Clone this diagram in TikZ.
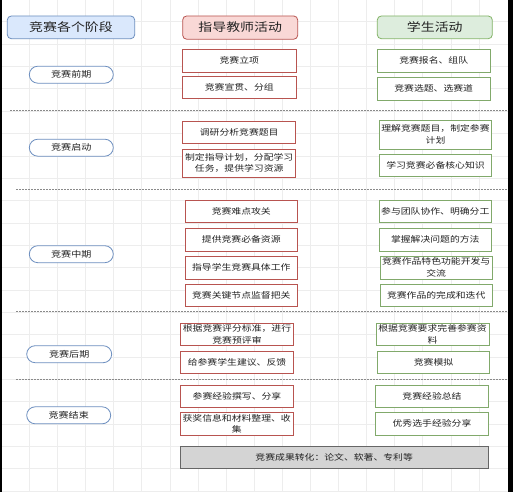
\documentclass[tikz,border=0pt]{standalone}
\usepackage{fontspec}
\newfontfamily\cjk[FakeStretch=1.2]{Noto Sans CJK SC}
\definecolor{gridc}{HTML}{EDEDED}
\definecolor{blueb}{HTML}{6C8EBF}
\definecolor{bluef}{HTML}{DAE8FC}
\definecolor{redb}{HTML}{B85450}
\definecolor{redf}{HTML}{F8CECC}
\definecolor{greenb}{HTML}{82B366}
\definecolor{greenf}{HTML}{D5E8D4}
\definecolor{txt}{HTML}{222222}
\definecolor{dashc}{HTML}{8A8A8A}
\tikzset{
  head/.style={draw, line width=0.8pt, rounded corners=4pt, inner sep=0pt, font=\cjk\fontsize{11.6}{13}\selectfont, text=txt},
  pill/.style={draw=blueb, fill=white, line width=0.8pt, rounded corners=8.5pt, minimum width=84, minimum height=17, inner sep=0pt, font=\cjk\fontsize{8.4}{10}\selectfont, text=txt},
  tbox/.style={draw=redb, fill=white, line width=0.7pt, minimum width=113, minimum height=22.7, inner sep=0pt, align=center, font=\cjk\fontsize{8.2}{11.4}\selectfont, text=txt},
  sbox/.style={draw=greenb!80!gray, fill=white, line width=0.7pt, minimum width=112.6, minimum height=22.7, inner sep=0pt, align=center, font=\cjk\fontsize{8.2}{11.4}\selectfont, text=txt},
  gbox/.style={draw=black!60, fill=black!17, line width=0.8pt, minimum width=308.3, minimum height=22.3, inner sep=0pt, font=\cjk\fontsize{8.2}{11}\selectfont, text=txt},
  sep/.style={draw=dashc, line width=0.6pt, dash pattern=on 1.5pt off 1.5pt}
}
\begin{document}
\begin{tikzpicture}[x=1pt,y=-1pt]
\useasboundingbox (0,0) rectangle (513,492);
\fill[white] (0,0) rectangle (513,492);
% grid
\foreach \i in {0,...,16} \draw[gridc, line width=0.6pt] ({29.3+28.1*\i},0) -- ({29.3+28.1*\i},492);
\foreach \j in {0,...,21} \draw[gridc, line width=0.6pt] (2,{21.7+22.35*\j}) -- (507.5,{21.7+22.35*\j});
% side bars
\fill[black] (0,0) rectangle (1.7,492);
\fill[black] (507.5,0) rectangle (513,492);
% separators
\coordinate (a1) at (10,110); \coordinate (b1) at (507,110);
\coordinate (a2) at (16,189.3); \coordinate (b2) at (507,189.3);
\coordinate (a3) at (16,311.7); \coordinate (b3) at (507,311.7);
\coordinate (a4) at (16,379); \coordinate (b4) at (507,379);
\draw[sep] (a1) -- (b1);
\draw[sep] (a2) -- (b2);
\draw[sep] (a3) -- (b3);
\draw[sep] (a4) -- (b4);
% headers
\node[head, draw=blueb, fill=bluef, minimum width=127.4, minimum height=22.7] (h1) at (71,27.35) {竞赛各个阶段};
\node[head, draw=redb, fill=redf!80!white, minimum width=115, minimum height=23.3] (h2) at (240.2,27.6) {指导教师活动};
\node[head, draw=greenb, fill=greenf!80!white, minimum width=115, minimum height=22.7] (h3) at (434.8,27.35) {学生活动};
% stages
\node[pill] (p1) at (71.3,74.7) {竞赛前期};
\node[pill] (p2) at (71.3,147.7) {竞赛启动};
\node[pill] (p3) at (71.3,254.2) {竞赛中期};
\node[pill, minimum width=85] (p4) at (69.2,354.2) {竞赛后期};
\node[pill] (p5) at (68.7,415.3) {竞赛结束};
% teacher
\node[tbox, minimum width=113.3, minimum height=23] (t1) at (239.3,60.8) {竞赛立项};
\node[tbox, minimum width=113.3] (t2) at (239.3,87.3) {竞赛宣贯、分组};
\node[tbox, minimum height=21.6] (t3) at (239.2,132.5) {调研分析竞赛题目};
\node[tbox, minimum height=28.3] (t4) at (239.2,163.2) {制定指导计划，分配学习\\任务，提供学习资源};
\node[tbox, minimum width=112.7] (t5) at (241.3,211.3) {竞赛难点攻关};
\node[tbox, minimum width=112.7] (t6) at (241.3,239.5) {提供竞赛必备资源};
\node[tbox, minimum width=112.7] (t7) at (241.3,267.5) {指导学生竞赛具体工作};
\node[tbox, minimum width=112.7] (t8) at (241.3,295.3) {竞赛关键节点监督把关};
\node[tbox, minimum width=112.6, minimum height=22.4] (t9) at (237,334.5) {根据竞赛评分标准，进行\\竞赛预评审};
\node[tbox, minimum width=112.6, minimum height=22.4] (t10) at (237,362.2) {给参赛学生建议、反馈};
\node[tbox, minimum width=112.6, minimum height=22.4] (t11) at (237,396.2) {参赛经验撰写、分享};
\node[tbox, minimum width=113.3] (t12) at (236.7,423.7) {获奖信息和材料整理、收\\集};
% students
\node[sbox, minimum width=112.7, minimum height=23] (s1) at (433.7,60.8) {竞赛报名、组队};
\node[sbox, minimum width=112.7] (s2) at (433.7,88.7) {竞赛选题、选赛道};
\node[sbox, minimum width=112.4, minimum height=29] (s3) at (435.5,134.5) {理解竞赛题目，制定参赛\\计划};
\node[sbox, minimum width=112.4] (s4) at (435.5,165.3) {学习竞赛必备核心知识};
\node[sbox] (s5) at (435.3,211.3) {参与团队协作、明确分工};
\node[sbox] (s6) at (435.3,239.7) {掌握解决问题的方法};
\node[sbox, minimum width=112.3] (s7) at (436.2,267.5) {竞赛作品特色功能开发与\\交流};
\node[sbox, minimum width=112.3] (s8) at (436.2,295.3) {竞赛作品的完成和迭代};
\node[sbox, minimum width=113, minimum height=22.4] (s9) at (432.5,334.5) {根据竞赛要求完善参赛资\\料};
\node[sbox, minimum width=112.4, minimum height=22.4] (s10) at (433.5,362.2) {竞赛模拟};
\node[sbox, minimum height=22.4] (s11) at (432,396.2) {竞赛经验总结};
\node[sbox] (s12) at (432,423.7) {优秀选手经验分享};
% result
\node[gbox] (g) at (334.2,457.2) {竞赛成果转化：论文、软著、专利等};
\end{tikzpicture}
\end{document}
